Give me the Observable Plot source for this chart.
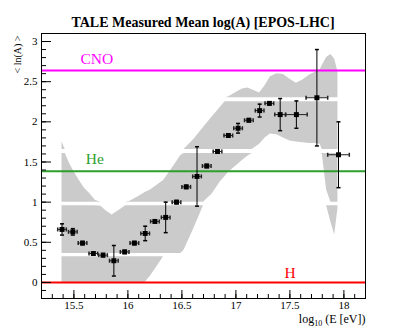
<!DOCTYPE html>
<html>
<head>
<meta charset="utf-8">
<script src="https://cdn.jsdelivr.net/npm/d3@7"></script>
<script src="https://cdn.jsdelivr.net/npm/@observablehq/plot@0.6"></script>
<style>
  body { margin: 0; background: #fff; }
  #title { width: 406px; height: 17px; padding-top: 15px; line-height: 16px; text-align: center;
           font: bold 14px "Liberation Serif", serif; color: #000; }
  #chart svg, #chart svg text, #chart svg g { font-family: "Liberation Serif", serif !important; font-variant: normal !important; }
</style>
</head>
<body>
<div id="title">TALE Measured Mean log(A) [EPOS-LHC]</div>
<div id="chart"></div>
<script>
// ---- data ----
const energy  = [15.39, 15.49, 15.58, 15.68, 15.77, 15.87, 15.97, 16.06, 16.16, 16.25, 16.35, 16.45, 16.54,
                 16.64, 16.73, 16.83, 16.93, 17.02, 17.12, 17.22, 17.31, 17.41, 17.56, 17.75, 17.95];
const meanLnA = [0.66, 0.63, 0.49, 0.36, 0.34, 0.27, 0.38, 0.49, 0.61, 0.76, 0.81, 1.00, 1.19,
                 1.32, 1.45, 1.63, 1.83, 1.92, 2.02, 2.14, 2.23, 2.09, 2.09, 2.30, 1.59];
const statErr = [0.07, 0.04, 0.02, 0.02, 0.02, 0.19, 0.02, 0.02, 0.09, 0.02, 0.19, 0.02, 0.02,
                 0.37, 0.02, 0.02, 0.02, 0.06, 0.02, 0.08, 0.02, 0.20, 0.17, 0.60, 0.41];
const energyErr = [0.04, 0.04, 0.04, 0.04, 0.04, 0.04, 0.04, 0.04, 0.04, 0.04, 0.04, 0.04, 0.04,
                   0.04, 0.04, 0.04, 0.04, 0.04, 0.04, 0.04, 0.04, 0.05, 0.10, 0.10, 0.10];

// systematic band
const bandE    = [15.39, 15.42, 15.46, 15.50, 15.55, 15.60, 15.65, 15.70, 15.75, 15.80, 15.855, 15.92, 15.98,
                  16.02, 16.10, 16.16, 16.21, 16.27, 16.33, 16.39, 16.45, 16.49, 16.52, 16.61, 16.70, 16.78,
                  16.855, 16.90, 16.93, 17.01, 17.06, 17.11, 17.15, 17.22, 17.27, 17.32, 17.38, 17.44, 17.50,
                  17.56, 17.62, 17.68, 17.74, 17.78, 17.80, 17.84, 17.88, 17.915, 17.945];
const bandLow  = [0, 0, 0, 0, 0, 0, 0, 0, 0, 0, 0, 0, 0,
                  0, 0, 0, 0.08, 0.20, 0.34, 0.345, 0.35, 0.355, 0.40, 0.67, 0.96, 1.10,
                  1.25, 1.32, 1.37, 1.46, 1.52, 1.57, 1.62, 1.72, 1.80, 1.85, 1.84, 1.80, 1.76,
                  1.75, 1.74, 1.73, 1.73, 1.72, 1.60, 1.15, 0.75, 0.59, 0.92];
const bandHigh = [1.75, 1.62, 1.48, 1.38, 1.27, 1.17, 1.10, 1.02, 0.95, 0.89, 0.84, 0.90, 0.96,
                  1.01, 1.07, 1.12, 1.15, 1.21, 1.27, 1.38, 1.50, 1.58, 1.64, 1.78, 1.93, 2.06,
                  2.18, 2.25, 2.31, 2.37, 2.41, 2.42, 2.40, 2.36, 2.45, 2.56, 2.60, 2.59, 2.53,
                  2.48, 2.52, 2.58, 2.62, 2.65, 2.70, 2.80, 2.84, 2.78, 2.62];

// reference nuclei
const refNames = ["H", "He", "CNO"];
const refLnA   = [0, 1.386, 2.639];
const labelE   = [17.45, 15.61, 15.56];
const labelLnA = [0.06, 1.48, 2.72];

// axes
const xTicks = [15.5, 16, 16.5, 17, 17.5, 18];
const yTicks = [0, 0.5, 1, 1.5, 2, 2.5, 3];
const xMinor = d3.range(152, 183).map(v => v / 10);
const yMinor = d3.range(-2, 32).map(v => v / 10);

// ---- styles ----
const refColors = ["#ff0000", "#2e9e2e", "#ff00ff"];
const bandFill = "#cbcbcb";
const stripes = [[0.32, 0.36], [0.955, 1.0], [1.605, 1.655], [2.25, 2.30]];
const serif = "Liberation Serif, serif";

const W = 406, H = 300, mT = 1, mB = 34, mL = 41, mR = 41;
const frameW = W - mL - mR, frameH = H - mT - mB;

const pts = energy.map((e, i) => ({e, v: meanLnA[i], s: statErr[i], xe: energyErr[i]}));
const band = bandE.map((e, i) => ({e, lo: bandLow[i], hi: bandHigh[i]}));
const refs = refNames.map((n, i) => ({n, v: refLnA[i], c: refColors[i], le: labelE[i], ly: labelLnA[i]}));

// slabs between the white stripes
const bounds = [-Infinity, ...stripes.flat(), Infinity];
const slabs = [];
for (let k = 0; k < bounds.length; k += 2) slabs.push([bounds[k], bounds[k + 1]]);
const clamp = (v, a, b) => Math.min(Math.max(v, a), b);

const hCap = {draw(ctx) { ctx.moveTo(-2, 0); ctx.lineTo(2, 0); }};
const vCap = {draw(ctx) { ctx.moveTo(0, -2); ctx.lineTo(0, 2); }};

const chart = Plot.plot({
  width: W, height: H,
  marginTop: mT, marginBottom: mB, marginLeft: mL, marginRight: mR,
  style: {fontFamily: serif, fontSize: "11px", background: "#fff", color: "#000"},
  x: {domain: [15.2, 18.2]},
  y: {domain: [-0.2, 3.1]},
  marks: [
    ...slabs.map(([a, b]) => Plot.areaY(band, {
      x: "e", y1: d => clamp(d.lo, a, b), y2: d => clamp(d.hi, a, b), fill: bandFill
    })),
    Plot.ruleY(refs, {y: "v", stroke: "c", strokeWidth: 2}),
    Plot.text(refs, {x: "le", y: "ly", text: "n", fill: "c", textAnchor: "start", lineAnchor: "bottom",
                     fontSize: 15.5, fontFamily: serif}),
    Plot.ruleX(pts, {x: "e", y1: d => d.v - d.s, y2: d => d.v + d.s, stroke: "#000", strokeWidth: 1}),
    Plot.ruleY(pts, {y: "v", x1: d => d.e - d.xe, x2: d => d.e + d.xe, stroke: "#222", strokeWidth: 1}),
    Plot.dot(pts, {x: "e", y: d => d.v - d.s, symbol: hCap, stroke: "#000", fill: "none", r: 2}),
    Plot.dot(pts, {x: "e", y: d => d.v + d.s, symbol: hCap, stroke: "#000", fill: "none", r: 2}),
    Plot.dot(pts, {x: d => d.e - d.xe, y: "v", symbol: vCap, stroke: "#222", fill: "none", r: 2}),
    Plot.dot(pts, {x: d => d.e + d.xe, y: "v", symbol: vCap, stroke: "#222", fill: "none", r: 2}),
    Plot.dot(pts, {x: "e", y: "v", symbol: "square", r: 2.8, fill: "#000", stroke: "none"}),
    Plot.ruleX(xMinor, {x: d => d, insetTop: frameH - 4, stroke: "#000"}),
    Plot.ruleX(xTicks, {x: d => d, insetTop: frameH - 8, stroke: "#000"}),
    Plot.ruleY(yMinor, {y: d => d, insetRight: frameW - 5, stroke: "#000"}),
    Plot.ruleY(yTicks, {y: d => d, insetRight: frameW - 10, stroke: "#000"}),
    Plot.axisX({ticks: xTicks, tickSize: 0, tickPadding: 3, tickFormat: d => String(d), fontSize: 11,
                fontFamily: serif, label: null}),
    Plot.axisY({ticks: yTicks, tickSize: 0, tickPadding: 4, tickFormat: d => String(d), fontSize: 11,
                fontFamily: serif, label: null}),
    Plot.text(["< ln(A) >"], {frameAnchor: "top-left", rotate: -90, textAnchor: "end", lineAnchor: "bottom",
                              dx: -21, dy: 2, fontSize: 10, fontFamily: serif}),
    Plot.text(["log10 (E [eV])"], {frameAnchor: "bottom-right", textAnchor: "end", lineAnchor: "bottom",
                                   dy: 24, fontSize: 12, fontFamily: serif}),
    Plot.frame({stroke: "#000", strokeWidth: 1})
  ]
});
d3.select(chart).selectAll("text").filter(function () { return this.textContent === "log10 (E [eV])"; })
  .each(function () {
    const t = d3.select(this);
    t.text(null);
    t.append("tspan").text("log");
    t.append("tspan").attr("dy", 3).attr("font-size", 8).text("10");
    t.append("tspan").attr("dy", -3).text(" (E [eV])");
  });
document.getElementById("chart").appendChild(chart);
</script>
</body>
</html>
